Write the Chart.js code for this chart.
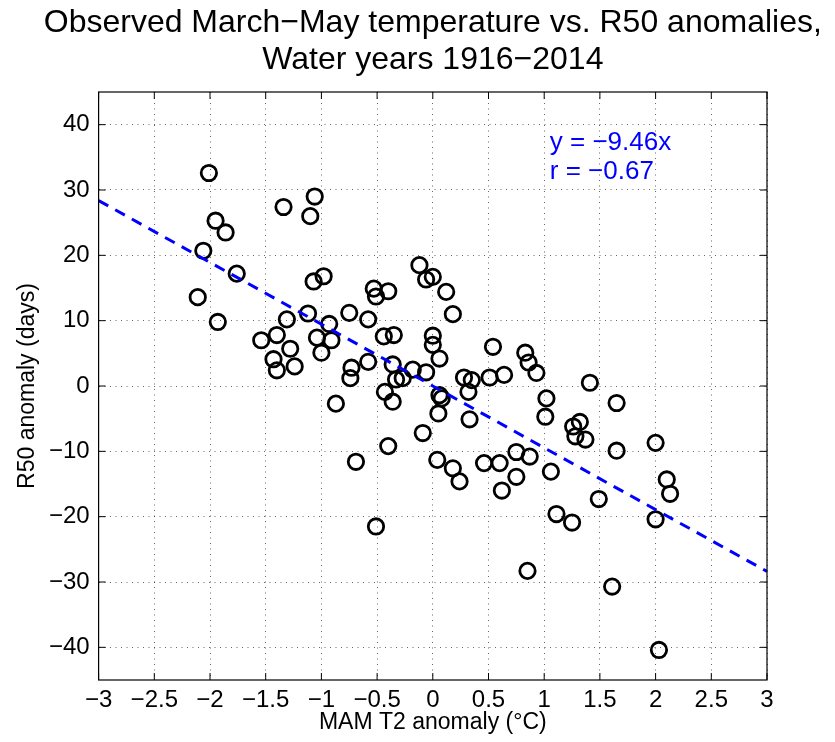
<!DOCTYPE html>
<html><head><meta charset="utf-8">
<script src="https://cdn.jsdelivr.net/npm/chart.js@4/dist/chart.umd.min.js"></script>
<style>html,body{margin:0;padding:0;background:#fff;}canvas{display:block;}</style>
</head><body>
<canvas id="c" width="835" height="742"></canvas>
<script>
// ---- text ----
const titleLines = ['Observed March\u2212May temperature vs. R50 anomalies,', 'Water years 1916\u22122014'];
const xAxisTitle = 'MAM T2 anomaly (\u00B0C)';
const yAxisTitle = 'R50 anomaly (days)';
const fitLabels = ['y = \u22129.46x', 'r = \u22120.67'];

// ---- tick values ----
const xTickValues = [-3, -2.5, -2, -1.5, -1, -0.5, 0, 0.5, 1, 1.5, 2, 2.5, 3];
const yTickValues = [-40, -30, -20, -10, 0, 10, 20, 30, 40];

// ---- data: MAM T2 anomaly (°C) and R50 anomaly (days) ----
const tAnomaly = [
  -2.01, -1.34, -1.06, -1.10, -1.95, -1.86, -2.06, -1.76, -1.07, -0.98,
  -2.11, -1.93, -0.53, -0.51, -0.40, -0.12, -0.06, 0.00, 0.12, 0.18,
  -1.31, -1.12, -0.93, -0.75, -0.58, -1.54, -1.40, -1.28, -1.43, -1.40,
  -1.24, -1.04, -0.91, -1.00, -0.44, -0.35, 0.00, 0.00, 0.06, -0.58,
  -0.73, -0.74, -0.36, -0.18, -0.33, -0.27, -0.06, -0.43, -0.36, -0.87,
  0.06, 0.08, 0.05, 0.28, 0.35, 0.51, 0.64, 0.32, 0.33, -0.09,
  -0.40, 0.54, 0.83, 0.86, 0.93, 1.41, 1.02, 1.01, 1.32, 1.26,
  1.28, 1.37, 1.65, 1.65, 2.00, 2.10, 2.13, 1.49, 2.00, 1.25,
  -0.69, 0.04, 0.18, 0.24, 0.46, 0.60, 0.62, 0.75, 0.87, 0.75,
  1.06, 1.11, -0.51, 0.85, 1.61, 2.03
];
const r50Anomaly = [
  32.6, 27.4, 29.0, 26.0, 25.3, 23.5, 20.7, 17.2, 16.0, 16.8,
  13.6, 9.8, 14.9, 13.7, 14.5, 18.5, 16.3, 16.7, 14.4, 11.0,
  10.2, 11.1, 9.5, 11.2, 10.2, 7.0, 7.8, 5.7, 4.1, 2.4,
  3.0, 7.4, 7.0, 5.1, 7.6, 7.8, 7.7, 6.3, 4.2, 3.7,
  2.8, 1.2, 3.3, 2.5, 1.0, 1.2, 2.1, -0.9, -2.4, -2.7,
  -1.4, -1.9, -4.2, 1.3, 0.9, 1.3, 1.7, -0.9, -5.1, -7.2,
  -9.2, 6.0, 5.1, 3.6, 2.0, 0.5, -1.9, -4.7, -5.5, -6.2,
  -7.7, -8.2, -2.6, -9.9, -8.7, -14.3, -16.5, -17.3, -20.4, -20.9,
  -11.6, -11.3, -12.6, -14.6, -11.8, -11.8, -16.0, -10.1, -10.8, -13.9,
  -13.1, -19.6, -21.5, -28.3, -30.7, -40.4
];

// ---- regression fit ----
const fitSlope = -9.46;
const fitXRange = [-3, 3];

// ---- layout / style (not data) ----
const FONT = "'Liberation Sans', Arial, Helvetica, sans-serif";
const fitLabelAnchor = { x: 1.05, y: [36.1, 31.7] };

const scatterPoints = tAnomaly.map((x, i) => ({ x: x, y: r50Anomaly[i] }));
const fitLine = fitXRange.map(x => ({ x: x, y: fitSlope * x }));

const fmt = v => (v < 0 ? '\u2212' + Math.abs(v) : String(v));

const framePlugin = {
  id: 'frame',
  afterDatasetsDraw(chart) {
    const { ctx, chartArea: a, scales } = chart;
    ctx.save();
    ctx.strokeStyle = '#000';
    ctx.lineWidth = 1.2;
    ctx.strokeRect(a.left, a.top, a.right - a.left, a.bottom - a.top);
    const tl = 7;
    ctx.lineWidth = 1;
    ctx.beginPath();
    xTickValues.forEach(v => {
      const px = scales.x.getPixelForValue(v);
      ctx.moveTo(px, a.bottom); ctx.lineTo(px, a.bottom - tl);
      ctx.moveTo(px, a.top); ctx.lineTo(px, a.top + tl);
    });
    yTickValues.forEach(v => {
      const py = scales.y.getPixelForValue(v);
      ctx.moveTo(a.left, py); ctx.lineTo(a.left + tl, py);
      ctx.moveTo(a.right, py); ctx.lineTo(a.right - tl, py);
    });
    ctx.stroke();
    ctx.restore();
  },
  afterDraw(chart) {
    const { ctx, chartArea: a, scales } = chart;
    ctx.save();
    // title
    ctx.fillStyle = '#000';
    ctx.font = '32px ' + FONT;
    ctx.textAlign = 'center';
    ctx.textBaseline = 'alphabetic';
    const cx = (a.left + a.right) / 2;
    ctx.fillText(titleLines[0], cx, 32);
    ctx.fillText(titleLines[1], cx, 69);
    // fit labels
    ctx.fillStyle = '#0000ff';
    ctx.font = '26px ' + FONT;
    ctx.textAlign = 'left';
    fitLabels.forEach((t, i) => {
      ctx.fillText(t, scales.x.getPixelForValue(fitLabelAnchor.x), scales.y.getPixelForValue(fitLabelAnchor.y[i]));
    });
    ctx.restore();
  }
};

const gridCommon = { color: 'rgba(0,0,0,0.6)', lineWidth: 1, drawTicks: false };

new Chart(document.getElementById('c'), {
  type: 'scatter',
  data: {
    datasets: [
      {
        label: 'obs',
        data: scatterPoints,
        pointStyle: 'circle',
        pointRadius: 7.7,
        pointHoverRadius: 7.7,
        borderWidth: 2.8,
        borderColor: '#000',
        backgroundColor: 'rgba(0,0,0,0)',
        order: 2
      },
      {
        type: 'line',
        label: 'fit',
        data: fitLine,
        borderColor: '#0000ff',
        borderWidth: 3,
        borderDash: [11, 8],
        pointRadius: 0,
        fill: false,
        order: 1
      }
    ]
  },
  options: {
    responsive: false,
    animation: false,
    layout: { padding: { top: 92, right: 68, bottom: 0, left: 0 } },
    plugins: { legend: { display: false }, tooltip: { enabled: false }, title: { display: false } },
    scales: {
      x: {
        type: 'linear', min: -3, max: 3,
        afterBuildTicks: s => { s.ticks = xTickValues.map(v => ({ value: v })); },
        afterFit: s => { s.height = 62; },
        grid: gridCommon,
        border: { display: false, dash: [1, 4.5] },
        ticks: { color: '#000', font: { family: FONT, size: 24 }, padding: 6, maxRotation: 0, autoSkip: false, callback: v => fmt(v) },
        title: { display: true, text: xAxisTitle, color: '#000', font: { family: FONT, size: 23 }, padding: { top: 0, bottom: 6 } }
      },
      y: {
        type: 'linear', min: -45, max: 45,
        afterBuildTicks: s => { s.ticks = yTickValues.map(v => ({ value: v })); },
        afterFit: s => { s.width = 98.6; },
        grid: gridCommon,
        border: { display: false, dash: [1, 4.5] },
        ticks: { color: '#000', font: { family: FONT, size: 24 }, padding: 9, autoSkip: false, callback: v => fmt(v) },
        title: { display: true, text: yAxisTitle, color: '#000', font: { family: FONT, size: 23 }, padding: { top: 14, bottom: 0 } }
      }
    }
  },
  plugins: [framePlugin]
});
</script>
</body></html>
